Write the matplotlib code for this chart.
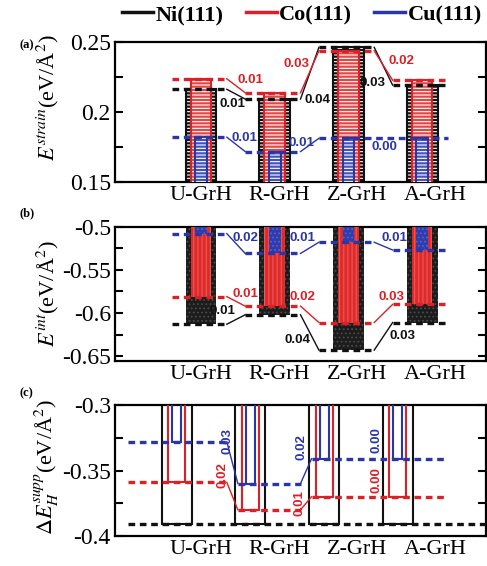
import numpy as np
import matplotlib
matplotlib.use("Agg")
import matplotlib.pyplot as plt
from matplotlib.lines import Line2D
from matplotlib.ticker import MultipleLocator, FuncFormatter

plt.rcParams["font.family"] = ["Liberation Serif", "DejaVu Serif"]
plt.rcParams["mathtext.fontset"] = "stix"
plt.rcParams["hatch.linewidth"] = 0.8

# ---- data ----
categories = ["U-GrH", "R-GrH", "Z-GrH", "A-GrH"]

strain_ni = [0.216, 0.209, 0.246, 0.219]
strain_co = [0.2235, 0.2135, 0.2435, 0.2225]
strain_cu = [0.1818, 0.1715, 0.181, 0.181]
strain_ni_diff = ["0.01", "0.04", "0.03"]
strain_co_diff = ["0.01", "0.03", "0.02"]
strain_cu_diff = ["0.01", "0.01", "0.00"]

int_ni = [-0.613, -0.602, -0.643, -0.611]
int_co = [-0.581, -0.592, -0.611, -0.590]
int_cu = [-0.508, -0.531, -0.518, -0.527]
int_ni_diff = ["0.01", "0.04", "0.03"]
int_co_diff = ["0.01", "0.02", "0.03"]
int_cu_diff = ["0.02", "0.01", "0.01"]

supp_ni = [-0.391, -0.391, -0.391, -0.391]
supp_co = [-0.359, -0.380, -0.370, -0.370]
supp_cu = [-0.328, -0.360, -0.341, -0.341]
supp_ni_diff = ["", "", ""]
supp_co_diff = ["0.02", "0.01", "0.00"]
supp_cu_diff = ["0.03", "0.02", "0.00"]

BLACK = "#111111"
RED = "#dd2026"
BLUE = "#2a36a6"

x = np.arange(len(categories))

fig = plt.figure(figsize=(4.87, 5.66), dpi=100)
W, H = 487, 566


def add_axes(top, bottom):
    return fig.add_axes([115 / W, 1 - bottom / H, (486 - 115) / W, (bottom - top) / H])


def style_axis(ax, ylim, major, minor, label, label_y):
    ax.set_xlim(-1.167, 3.867)
    ax.set_ylim(*ylim)
    ax.yaxis.set_major_locator(MultipleLocator(major))
    ax.yaxis.set_minor_locator(MultipleLocator(minor))
    ax.yaxis.set_major_formatter(FuncFormatter(lambda v, p: "%g" % round(v, 3)))
    ax.tick_params(axis="y", which="both", direction="in", right=True,
                   length=6, width=1.5, labelsize=17, pad=3)
    ax.set_xticks(x * 1.06)
    ax.set_xticklabels(categories)
    ax.tick_params(axis="x", length=0, labelsize=16, pad=3)
    for s in ax.spines.values():
        s.set_linewidth(1.6)
    ax.set_ylabel(label, fontsize=16)
    ax.yaxis.set_label_coords(-0.145, label_y)


def draw_levels(ax, vals, color, diffs, offsets, left=0.4, right=0.35,
                first_left=None, last_right=None, rot=0):
    n = len(vals)
    segs = []
    for i, v in enumerate(vals):
        x0 = first_left if (i == 0 and first_left is not None) else x[i] - left
        x1 = last_right if (i == n - 1 and last_right is not None) else x[i] + right
        if segs and segs[-1][2] == v:
            segs[-1][1] = x1
        else:
            segs.append([x0, x1, v])
    for x0, x1, v in segs:
        ax.plot([x0, x1], [v, v], color=color, lw=2.4, ls=(0, (2, 1.4)),
                dash_capstyle="butt", zorder=5)
    for i in range(n - 1):
        xa, xb = x[i] + right, x[i + 1] - left
        if vals[i] != vals[i + 1]:
            ax.plot([xa, xb], [vals[i], vals[i + 1]], color=color, lw=1.0, zorder=5)
        if diffs[i]:
            ax.annotate(diffs[i], ((xa + xb) / 2, (vals[i] + vals[i + 1]) / 2),
                        xytext=offsets[i], textcoords="offset pixels",
                        ha="center", va="center", rotation=rot, color=color,
                        fontsize=9.5, fontweight="bold", family="Liberation Sans",
                        zorder=6)


# ---- (a) strain energy ----
ax1 = add_axes(41.7, 181.7)
ax1.bar(x, strain_ni, 0.42, color=BLACK, hatch="-----", edgecolor="white", lw=0, zorder=2)
ax1.bar(x, strain_ni, 0.42, fill=False, edgecolor=BLACK, lw=1.5, zorder=2)
ax1.bar(x, strain_co, 0.28, color="#e04848", hatch="-----", edgecolor="white", lw=0, zorder=3)
ax1.bar(x, strain_co, 0.28, fill=False, edgecolor=RED, lw=1.5, zorder=3)
ax1.bar(x, strain_cu, 0.16, color="#4452bb", hatch="-----", edgecolor="white", lw=0, zorder=4)
ax1.bar(x, strain_cu, 0.16, fill=False, edgecolor=BLUE, lw=1.5, zorder=4)
draw_levels(ax1, strain_ni, BLACK, strain_ni_diff, [(-4, -10), (8, -27), (-11, -17)])
draw_levels(ax1, strain_co, RED, strain_co_diff, [(14, 6), (-13, 8), (18, 4)])
draw_levels(ax1, strain_cu, BLUE, strain_cu_diff, [(8, 6), (-8, 2), (1, -9)])
style_axis(ax1, (0.15, 0.25), 0.05, 0.025, r"$E^{strain}$(eV/Å$^2$)", 0.6)

# ---- (b) interaction energy ----
ax2 = add_axes(226.7, 360.5)
ax2.bar(x, int_ni, 0.42, color="#1c1c1c", hatch="....", edgecolor="#4a4a4a", lw=0, zorder=2)
ax2.bar(x, int_co, 0.28, color="#e02a2a", hatch="||||", edgecolor="#e85a5a", lw=0, zorder=3)
ax2.bar(x, int_cu, 0.16, color="#2f3cae", hatch="....", edgecolor="#5562c4", lw=0, zorder=4)
draw_levels(ax2, int_ni, BLACK, int_ni_diff, [(-14, 8), (-12, -8), (19, 0)])
draw_levels(ax2, int_co, RED, int_co_diff, [(9, 7), (-7, 17), (8, 16)])
draw_levels(ax2, int_cu, BLUE, int_cu_diff, [(9, 6), (-7, 10), (11, 8)])
style_axis(ax2, (-0.655, -0.5), 0.05, 0.025, r"$E^{int}$(eV/Å$^2$)", 0.5)

# ---- (c) hydrogenation energy on substrate ----
ax3 = add_axes(405, 536)
xc = x - 0.33
ax3.bar(xc, supp_ni, 0.41, fill=False, edgecolor=BLACK, lw=1.5, zorder=2)
ax3.bar(xc, supp_co, 0.23, fill=False, edgecolor=RED, lw=1.5, zorder=3)
ax3.bar(xc, supp_cu, 0.12, fill=False, edgecolor=BLUE, lw=1.5, zorder=4)
draw_levels(ax3, supp_ni, BLACK, supp_ni_diff, [(0, 0)] * 3, left=0.5, right=0.35,
            first_left=-0.99, last_right=4.0, rot=90)
draw_levels(ax3, supp_co, RED, supp_co_diff, [(-10, 21), (-7, 0), (-3, 17)],
            left=0.5, right=0.35, first_left=-0.99, rot=90)
draw_levels(ax3, supp_cu, BLUE, supp_cu_diff, [(-5, 22), (-5, 24), (-3, 19)],
            left=0.5, right=0.35, first_left=-0.99, rot=90)
style_axis(ax3, (-0.4, -0.3), 0.05, 0.025, r"$\Delta E_H^{supp}$(eV/Å$^2$)", 0.53)

# ---- panel letters and legend ----
for letter, ypix in [("(a)", 45), ("(b)", 213), ("(c)", 393)]:
    fig.text(20 / W, 1 - ypix / H, letter, fontsize=9, fontweight="bold", va="center")

handles = [Line2D([], [], color=c, lw=2.5) for c in (BLACK, RED, BLUE)]
fig.legend(handles, ["Ni(111)", "Co(111)", "Cu(111)"], loc="center", ncol=3,
           bbox_to_anchor=(0.62, 1 - 15 / H), frameon=False,
           prop={"weight": "bold", "size": 16}, handlelength=1.4,
           handletextpad=0.1, columnspacing=1.0, borderaxespad=0)

fig.savefig("out.png", dpi=100)
